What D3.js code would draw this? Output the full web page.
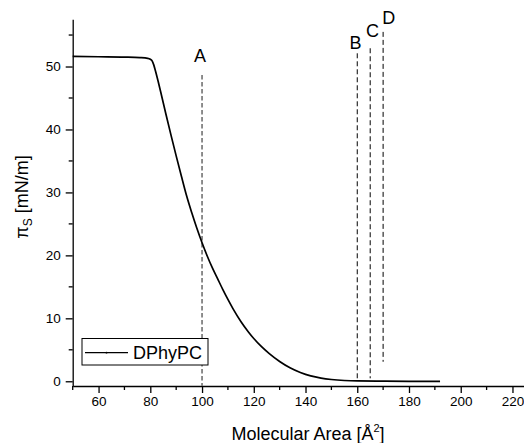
<!DOCTYPE html>
<html>
<head>
<meta charset="utf-8">
<script src="https://cdn.jsdelivr.net/npm/d3@7"></script>
<style>
  html, body { margin: 0; padding: 0; background: #fff; }
  svg { display: block; font-family: "Liberation Sans", Arial, sans-serif; }
  .axis path, .axis line { stroke: #000; stroke-width: 1.3; }
  .axis text { font-size: 13.5px; fill: #000; }
</style>
</head>
<body>
<div id="chart"></div>
<script>
// isotherm values
const area = [50, 60, 70, 76, 79, 80, 80.7, 81.3, 82, 83, 84, 86, 88, 90, 92, 94, 96, 98, 100,
  102, 104, 106, 108, 110, 112, 115, 118, 120, 123, 126, 130, 134, 138, 142, 146, 150,
  155, 160, 170, 180, 192];
const pressure = [51.6, 51.55, 51.5, 51.42, 51.3, 51.15, 50.9, 50.3, 49.3, 47.7, 46.0, 42.5,
  39.1, 35.8, 32.6, 29.5, 26.8, 24.3, 22.0, 19.9, 18.0, 16.3, 14.6, 13.0, 11.5, 9.5, 7.8,
  6.8, 5.5, 4.4, 3.15, 2.15, 1.4, 0.85, 0.5, 0.28, 0.12, 0.05, 0.02, 0.0, 0.0];

// vertical markers: position, top and bottom of the dashed line, label anchor
const markerLabels = ["A", "B", "C", "D"];
const markerX = [100, 160, 165, 170];
const markerTop = [48.65, 52.1, 52.9, 55.5];
const markerBottom = [-0.75, 0.1, 0.47, 3.1];
const labelX = [99.2, 159.3, 165.9, 172.2];
const labelY = [50.77, 52.74, 54.74, 56.76];

const xMajor = [60, 80, 100, 120, 140, 160, 180, 200, 220];
const xMinor = [50, 70, 90, 110, 130, 150, 170, 190, 210];
const yMajor = [0, 10, 20, 30, 40, 50];
const yMinor = [5, 15, 25, 35, 45, 55];

const width = 524;
const height = 443;

const svg = d3.select("#chart").append("svg")
  .attr("width", width)
  .attr("height", height);

const x = d3.scaleLinear().domain([50, 225]).range([72.7, 525.4]);
const y = d3.scaleLinear().domain([-0.75, 57.5]).range([386, 19.3]);

// axes
const xAxis = svg.append("g").attr("class", "axis")
  .attr("transform", `translate(0,${y(-0.75)})`);
xAxis.call(d3.axisBottom(x).tickValues(xMajor).tickSize(7).tickSizeOuter(0).tickPadding(3));
xAxis.append("g").selectAll("line").data(xMinor).join("line")
  .attr("x1", (d) => x(d)).attr("x2", (d) => x(d))
  .attr("y1", 0).attr("y2", 4);

const yAxis = svg.append("g").attr("class", "axis")
  .attr("transform", `translate(${x(50)},0)`);
yAxis.call(d3.axisLeft(y).tickValues(yMajor).tickSize(7).tickSizeOuter(0).tickPadding(5));
yAxis.append("g").selectAll("line").data(yMinor).join("line")
  .attr("y1", (d) => y(d)).attr("y2", (d) => y(d))
  .attr("x1", 0).attr("x2", -4);

// axis titles
const xTitle = svg.append("text")
  .attr("x", 308).attr("y", 440)
  .attr("text-anchor", "middle")
  .attr("font-size", 18);
xTitle.append("tspan").text("Molecular Area [Å");
xTitle.append("tspan").attr("font-size", 11).attr("dy", -8).text("2");
xTitle.append("tspan").attr("dy", 8).text("]");

const yTitle = svg.append("text")
  .attr("transform", `translate(28,${197}) rotate(-90)`)
  .attr("text-anchor", "middle")
  .attr("font-size", 18);
yTitle.append("tspan").text("π");
yTitle.append("tspan").attr("font-size", 12).attr("dy", 4).text("S");
yTitle.append("tspan").attr("dy", -4).text(" [mN/m]");

// dashed markers
const markers = markerLabels.map((label, i) => ({
  label, x: markerX[i], top: markerTop[i], bottom: markerBottom[i],
  lx: labelX[i], ly: labelY[i],
}));

svg.append("g").selectAll("line").data(markers).join("line")
  .attr("x1", (d) => x(d.x)).attr("x2", (d) => x(d.x))
  .attr("y1", (d) => y(d.top)).attr("y2", (d) => y(d.bottom))
  .attr("stroke", (d) => (d.label === "A" ? "#7a7a7a" : "#000"))
  .attr("stroke-width", (d) => (d.label === "A" ? 1.7 : 1))
  .attr("stroke-dasharray", (d) => (d.label === "A" ? "4.5,2.5" : "5,3"));

svg.append("g").selectAll("text").data(markers).join("text")
  .attr("x", (d) => x(d.lx)).attr("y", (d) => y(d.ly))
  .attr("text-anchor", "middle")
  .attr("font-size", 18)
  .text((d) => d.label);

// isotherm
const points = area.map((a, i) => [a, pressure[i]]);
svg.append("path")
  .datum(points)
  .attr("fill", "none")
  .attr("stroke", "#000")
  .attr("stroke-width", 1.7)
  .attr("d", d3.line().x((d) => x(d[0])).y((d) => y(d[1])).curve(d3.curveMonotoneX));

// legend
const legend = svg.append("g");
legend.append("rect")
  .attr("x", 82).attr("y", 338.5).attr("width", 126).attr("height", 26.5)
  .attr("fill", "#fff").attr("stroke", "#000").attr("stroke-width", 1);
legend.append("line")
  .attr("x1", 85).attr("x2", 128).attr("y1", 352.7).attr("y2", 352.7)
  .attr("stroke", "#000").attr("stroke-width", 1.2);
legend.append("circle")
  .attr("cx", 106.5).attr("cy", 352.7).attr("r", 0.9).attr("fill", "#000");
legend.append("text")
  .attr("x", 133).attr("y", 359.3)
  .attr("font-size", 18)
  .text("DPhyPC");
</script>
</body>
</html>
